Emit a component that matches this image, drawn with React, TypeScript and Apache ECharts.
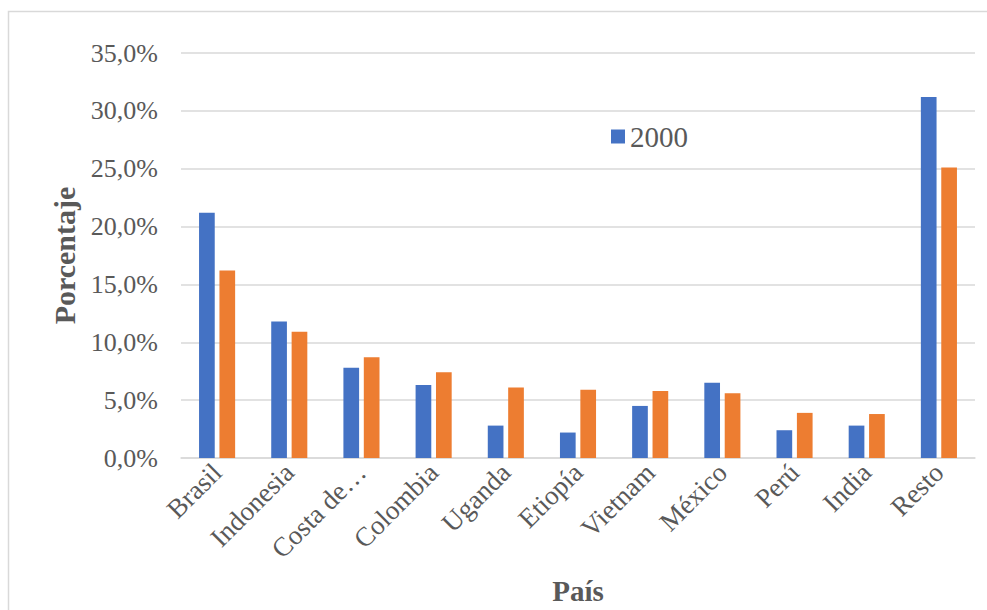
import React, { useEffect, useRef } from "react";
import * as echarts from "echarts";

const categories = ["Brasil", "Indonesia", "Costa de…", "Colombia", "Uganda", "Etiopía", "Vietnam", "México", "Perú", "India", "Resto"];
const values2000 = [21.2, 11.8, 7.8, 6.3, 2.8, 2.2, 4.5, 6.5, 2.4, 2.8, 31.2];
const valuesOther = [16.2, 10.9, 8.7, 7.4, 6.1, 5.9, 5.8, 5.6, 3.9, 3.8, 25.1];
const seriesNames = ["2000", "2018"];
const yMin = 0;
const yMax = 35;
const yInterval = 5;

const FONT = "Liberation Serif";
const TEXT = "#595959";
const GRID = "#d9d9d9";

export default function App() {
  const ref = useRef<HTMLDivElement>(null);
  useEffect(() => {
    if (!ref.current) return;
    const chart = echarts.init(ref.current, undefined, { renderer: "svg" });
    chart.setOption({
      animation: false,
      backgroundColor: "#ffffff",
      textStyle: { fontFamily: FONT, color: TEXT },
      graphic: [
        {
          type: "rect",
          shape: { x: 8.5, y: 11.5, width: 1000, height: 700 },
          style: { fill: "none", stroke: GRID, lineWidth: 1.5 },
          silent: true,
        },
      ],
      legend: {
        data: [seriesNames[0]],
        left: 606,
        top: 117,
        itemWidth: 14,
        itemHeight: 14,
        icon: "rect",
        textStyle: { fontFamily: FONT, fontSize: 29, color: TEXT },
      },
      grid: { left: 181, right: 12, top: 53, bottom: 152, containLabel: false },
      xAxis: {
        type: "category",
        data: categories,
        axisLine: { show: true, lineStyle: { color: GRID, width: 1.5 } },
        axisTick: { show: false },
        axisLabel: {
          rotate: 45,
          interval: 0,
          margin: 10,
          fontFamily: FONT,
          fontSize: 27,
          color: TEXT,
        },
        name: "País",
        nameLocation: "middle",
        nameGap: 118,
        nameTextStyle: { fontFamily: FONT, fontSize: 29, fontWeight: "bold", color: TEXT },
      },
      yAxis: {
        type: "value",
        min: yMin,
        max: yMax,
        interval: yInterval,
        axisLine: { show: false },
        axisTick: { show: false },
        splitLine: { show: true, lineStyle: { color: GRID, width: 1.5 } },
        axisLabel: {
          margin: 23,
          fontFamily: FONT,
          fontSize: 26,
          color: TEXT,
          formatter: (v: number) => v.toFixed(1).replace(".", ",") + "%",
        },
        name: "Porcentaje",
        nameLocation: "middle",
        nameGap: 98,
        nameRotate: 90,
        nameTextStyle: { fontFamily: FONT, fontSize: 30, fontWeight: "bold", color: TEXT },
      },
      series: [
        {
          name: seriesNames[0],
          type: "bar",
          data: values2000,
          itemStyle: { color: "#4472C4" },
          barGap: "30%",
          barCategoryGap: "50%",
        },
        {
          name: seriesNames[1],
          type: "bar",
          data: valuesOther,
          itemStyle: { color: "#ED7D31" },
          barGap: "30%",
          barCategoryGap: "50%",
        },
      ],
    });
    return () => chart.dispose();
  }, []);
  return (
    <div
      ref={ref}
      style={{ position: "fixed", left: 0, top: 0, width: 987, height: 610 }}
    />
  );
}
